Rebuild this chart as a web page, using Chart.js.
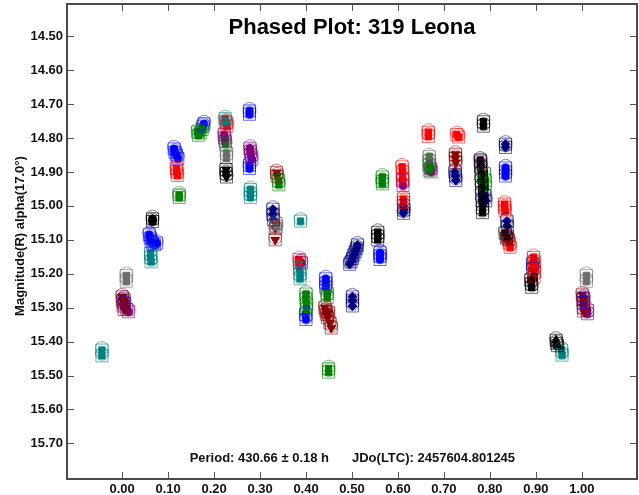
<!DOCTYPE html>
<html>
<head>
<meta charset="utf-8">
<script src="https://cdn.jsdelivr.net/npm/chart.js@4.4.1/dist/chart.umd.min.js"></script>
<style>
  html, body { margin: 0; padding: 0; background: #fff; }
</style>
</head>
<body>
<canvas id="chart" width="639" height="495"></canvas>
<script>
// Phased light curve of 319 Leona, one array of [phase, mag] per colour/marker
const xTicks = [0, 0.1, 0.2, 0.3, 0.4, 0.5, 0.6, 0.7, 0.8, 0.9, 1.0];
const yTicks = [14.5, 14.6, 14.7, 14.8, 14.9, 15.0, 15.1, 15.2, 15.3, 15.4, 15.5, 15.6, 15.7];

const blackSquares = [
  [0.786, 14.752], [0.786, 14.765],
  [0.779, 14.865], [0.780, 14.885], [0.781, 14.905], [0.781, 14.925], [0.782, 14.945],
  [0.782, 14.965], [0.783, 14.985], [0.784, 15.005], [0.784, 15.020],
  [0.556, 15.078], [0.556, 15.090], [0.556, 15.100],
  [0.889, 15.218], [0.890, 15.230], [0.891, 15.240],
  [0.833, 15.080], [0.836, 15.095],
];
const blackCircles = [[0.066, 15.038], [0.066, 15.046]];
const blackTriDown = [[0.226, 14.893], [0.226, 14.905], [0.227, 14.915]];
const blackTriUp = [[0.944, 15.396], [0.945, 15.405], [0.947, 15.412]];
const graySquares = [
  [0.009, 15.205], [0.009, 15.222], [1.010, 15.205], [1.010, 15.222],
  [0.227, 14.845], [0.227, 14.858], [0.335, 15.052], [0.336, 15.062], [0.668, 14.855],
];
const tealSquares = [
  [-0.044, 15.425], [-0.044, 15.442],
  [0.062, 15.140], [0.062, 15.152], [0.063, 15.165],
  [0.224, 14.743], [0.224, 14.752],
  [0.279, 14.952], [0.279, 14.965], [0.279, 14.975],
  [0.386, 15.185], [0.387, 15.200], [0.387, 15.215],
  [0.388, 15.045],
  [0.956, 15.425], [0.957, 15.440],
];
const redPoints = [
  [0.118, 14.890], [0.119, 14.900], [0.120, 14.910],
  [0.227, 14.755], [0.228, 14.765],
  [0.385, 15.158], [0.386, 15.168],
  [0.609, 14.885], [0.610, 14.900], [0.610, 14.920],
  [0.612, 14.980], [0.612, 14.990],
  [0.666, 14.783], [0.666, 14.795],
  [0.728, 14.790], [0.732, 14.797],
  [0.832, 14.995], [0.832, 15.005], [0.833, 15.015],
  [0.842, 15.110], [0.844, 15.122],
  [0.895, 15.152], [0.896, 15.165], [0.896, 15.180], [0.897, 15.195], [0.896, 15.210],
];
const darkRedPoints = [
  [0.000, 15.268], [0.001, 15.280], [0.002, 15.295], [0.004, 15.305],
  [0.336, 14.902], [0.337, 14.912],
  [0.333, 15.067], [0.333, 15.100],
  [0.441, 15.300], [0.443, 15.310], [0.445, 15.320], [0.447, 15.330], [0.449, 15.315],
  [0.452, 15.345], [0.455, 15.360],
  [0.725, 14.848], [0.725, 14.860], [0.726, 14.872],
  [0.838, 15.090], [0.840, 15.100],
  [1.001, 15.262], [1.002, 15.275], [1.003, 15.300], [1.004, 15.310],
];
const greenPoints = [
  [0.124, 14.968], [0.124, 14.975],
  [0.164, 14.782], [0.166, 14.792], [0.170, 14.785], [0.174, 14.775],
  [0.225, 14.818],
  [0.340, 14.925], [0.341, 14.938],
  [0.400, 15.260], [0.400, 15.275], [0.401, 15.290], [0.401, 15.305],
  [0.446, 15.258], [0.446, 15.270],
  [0.449, 15.480], [0.449, 15.490],
  [0.566, 14.915], [0.566, 14.928], [0.566, 14.935],
  [0.668, 14.868], [0.668, 14.880], [0.668, 14.895],
  [0.788, 14.905], [0.790, 14.925], [0.790, 14.945],
];
const bluePoints = [
  [0.059, 15.085], [0.061, 15.095], [0.063, 15.105], [0.066, 15.110], [0.070, 15.115], [0.075, 15.110],
  [0.113, 14.832], [0.115, 14.842], [0.118, 14.850], [0.121, 14.860],
  [0.176, 14.765], [0.178, 14.758],
  [0.277, 14.720], [0.277, 14.730],
  [0.277, 14.880], [0.277, 14.890],
  [0.390, 15.168],
  [0.399, 15.320], [0.400, 15.335],
  [0.443, 15.215], [0.443, 15.228], [0.443, 15.240],
  [0.561, 15.138], [0.561, 15.148], [0.561, 15.158],
  [0.834, 14.888], [0.834, 14.900], [0.834, 14.912],
  [1.004, 15.272], [1.004, 15.285],
  [0.004, 15.275], [0.005, 15.287],
];
const navyPoints = [
  [0.328, 15.010], [0.328, 15.025], [0.329, 15.040],
  [0.495, 15.172], [0.498, 15.165], [0.501, 15.155], [0.504, 15.145], [0.507, 15.135], [0.510, 15.125], [0.512, 15.115],
  [0.501, 15.268], [0.501, 15.280], [0.501, 15.295],
  [0.612, 15.000], [0.613, 15.012], [0.612, 15.022],
  [0.724, 14.900], [0.725, 14.912], [0.726, 14.925],
  [0.789, 14.970], [0.791, 14.985],
  [0.834, 14.818], [0.834, 14.828],
  [0.837, 15.045], [0.838, 15.060],
  [0.893, 15.170], [0.893, 15.185],
];
const purplePoints = [
  [0.010, 15.305], [0.014, 15.312],
  [0.222, 14.790], [0.223, 14.800], [0.224, 14.810],
  [0.278, 14.830], [0.279, 14.840], [0.280, 14.850], [0.282, 14.862],
  [0.610, 14.925], [0.611, 14.940],
  [0.671, 14.890], [0.672, 14.900],
  [0.780, 14.870], [0.780, 14.880],
  [1.012, 15.308], [1.012, 15.318],
];

const series = [
  { pts: blackSquares, color: "0,0,0", style: "rect", r: 4.5 },
  { pts: blackCircles, color: "0,0,0", style: "circle", r: 4 },
  { pts: blackTriDown, color: "0,0,0", style: "triangle", r: 5, rot: 180 },
  { pts: blackTriUp, color: "0,0,0", style: "triangle", r: 5 },
  { pts: graySquares, color: "110,110,110", style: "rect", r: 4.5 },
  { pts: tealSquares, color: "0,128,128", style: "rect", r: 4.5 },
  { pts: greenPoints, color: "0,128,0", style: "rect", r: 4.5 },
  { pts: redPoints, color: "255,0,0", style: "rect", r: 4.5 },
  { pts: darkRedPoints, color: "139,0,0", style: "triangle", r: 5, rot: 180 },
  { pts: purplePoints, color: "128,0,128", style: "circle", r: 3.8 },
  { pts: bluePoints, color: "0,0,255", style: "circle", r: 3.8 },
  { pts: navyPoints, color: "0,0,128", style: "rectRot", r: 4.5 },
];

const toXY = (pts) => pts.map(([x, y]) => ({ x, y }));

const datasets = [];
series.forEach((s) => {
  datasets.push({
    data: toXY(s.pts), pointStyle: "rect", pointRadius: 8.5, borderWidth: 1,
    borderColor: `rgba(${s.color},0.6)`, backgroundColor: "rgba(0,0,0,0)", showLine: false,
  });
  datasets.push({
    data: toXY(s.pts.map(([x, y]) => [x, y - 0.006])), pointStyle: "circle", pointRadius: 6.5, borderWidth: 1,
    borderColor: `rgba(${s.color},0.5)`, backgroundColor: "rgba(0,0,0,0)", showLine: false,
  });
});
series.forEach((s) => {
  datasets.push({
    data: toXY(s.pts), pointStyle: s.style, pointRadius: s.r, pointRotation: s.rot || 0,
    borderWidth: 1, borderColor: `rgb(${s.color})`, backgroundColor: `rgb(${s.color})`, showLine: false,
  });
});

const FONT = "Liberation Sans, Arial, sans-serif";

const framePlugin = {
  id: "frame",
  afterDraw(chart) {
    const { ctx, chartArea: a, scales } = chart;
    ctx.save();
    ctx.strokeStyle = "#555";
    ctx.lineWidth = 1;
    ctx.beginPath();
    xTicks.forEach((v) => {
      const px = Math.round(scales.x.getPixelForValue(v)) + 0.5;
      ctx.moveTo(px, a.bottom); ctx.lineTo(px, a.bottom - 7);
      ctx.moveTo(px, a.top); ctx.lineTo(px, a.top + 7);
    });
    yTicks.forEach((v) => {
      const py = Math.round(scales.y.getPixelForValue(v)) + 0.5;
      ctx.moveTo(a.left, py); ctx.lineTo(a.left + 7, py);
      ctx.moveTo(a.right, py); ctx.lineTo(a.right - 7, py);
    });
    ctx.stroke();
    ctx.lineWidth = 2;
    ctx.strokeStyle = "#4a4a4a";
    ctx.strokeRect(a.left, a.top, a.right - a.left, a.bottom - a.top);

    ctx.fillStyle = "#000";
    ctx.textBaseline = "middle";
    ctx.textAlign = "center";
    ctx.font = `bold 22px ${FONT}`;
    ctx.fillText("Phased Plot: 319 Leona", (a.left + a.right) / 2, 28);

    ctx.font = `bold 13px ${FONT}`;
    ctx.fillStyle = "#111";
    ctx.textAlign = "right";
    ctx.fillText("Period: 430.66 \u00b1 0.18 h", 329, 458);
    ctx.textAlign = "left";
    ctx.fillText("JDo(LTC): 2457604.801245", 352, 458);

    ctx.translate(20, 236);
    ctx.rotate(-Math.PI / 2);
    ctx.textAlign = "center";
    ctx.fillText("Magnitude(R) alpha(17.0\u00b0)", 0, 0);
    ctx.restore();
  },
};

const noPad = (s) => { s.paddingTop = 0; s.paddingBottom = 0; s.paddingLeft = 0; s.paddingRight = 0; };

new Chart(document.getElementById("chart"), {
  type: "scatter",
  data: { datasets },
  options: {
    responsive: false,
    animation: false,
    layout: { autoPadding: false, padding: { top: 4, right: 2, left: 0, bottom: 0 } },
    plugins: { legend: { display: false }, tooltip: { enabled: false } },
    scales: {
      x: {
        type: "linear", min: -0.12, max: 1.12,
        afterBuildTicks: (s) => { s.ticks = xTicks.map((v) => ({ value: v })); },
        afterFit: (s) => { s.height = 16; noPad(s); },
        grid: { display: false, drawTicks: false },
        border: { display: false },
        ticks: { padding: 3, color: "#111", font: { family: FONT, size: 13, weight: "bold" }, callback: (v) => Number(v).toFixed(2) },
      },
      y: {
        type: "linear", reverse: true, min: 14.405, max: 15.805,
        afterBuildTicks: (s) => { s.ticks = yTicks.map((v) => ({ value: v })); },
        afterFit: (s) => { s.width = 67; noPad(s); },
        grid: { display: false, drawTicks: false },
        border: { display: false },
        ticks: { padding: 4, color: "#111", font: { family: FONT, size: 13, weight: "bold" }, callback: (v) => Number(v).toFixed(2) },
      },
    },
  },
  plugins: [framePlugin],
});
</script>
</body>
</html>
